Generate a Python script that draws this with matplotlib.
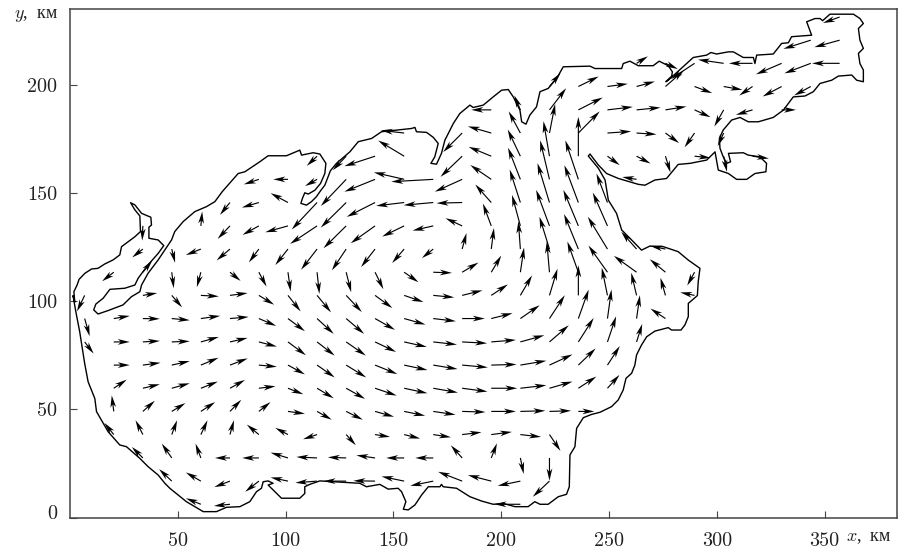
#! /usr/bin/python

# Depth-averaged current field over a basin outline

import matplotlib
matplotlib.use('Agg')
import matplotlib.pyplot as plt
from matplotlib.transforms import ScaledTranslation

# coastline, km
coast_x = [2.2, 1.8, 3.3, 4.2, 6.9, 10, 13, 16.1, 20, 23.1, 23.9, 27, 30.1, 32.7, 32.4, 30.1, 28.1, 30.1, 33.2, 37.5,
           37.8, 36.6, 36.6, 40.9, 43.5, 40.9, 36.2, 31.6, 30.1, 25.4, 18.5, 15.4, 12, 11, 13, 17.7, 24.6, 28.5, 32.4,
           33.2, 36.2, 40.9, 44, 47.1, 48.6, 52.5, 57.9, 63.3, 67.2, 70.6, 78, 81.1, 88, 91.9, 100.4, 106.6,
           107.4, 112.8, 115.9, 118.7, 118.2, 116.2, 113.6, 110.5, 108.9, 107.8, 107.1, 109.7, 112, 114.3, 116.2, 118.2,
           119.7, 120.8, 123.6, 129.8, 133.7, 139.9, 144.5, 158.4, 160, 160.7, 165.4, 168.5, 170.8, 169.2, 167.4, 170,
           172.3, 173.1, 173.9, 177.8, 180.8, 185.5, 187, 191.7, 196.3, 200.2, 203.3, 205.6, 208.7, 209.5, 211.5, 213.3,
           216.4, 218, 221.8, 225.7, 228.8, 241.2, 243.5, 245.8, 255.9, 256.6, 259.7, 263.6, 270.5, 273.3, 277.5,
           279.4, 279.1, 276.4, 277.5, 289.1, 295.3, 297.3, 299.9, 305.4, 307.7, 312.3, 317, 317.7, 318.5, 326.2, 330.1,
           333.2, 334.7, 344, 341.7, 345.6, 347.9, 349.1, 352.5, 363.4, 366.4, 368, 365.7, 366.4, 368, 365.7, 366.4, 368,
           368, 364.9, 362.6, 356.4, 353.3, 347.9, 344.8, 340.9, 335.5, 330.9, 326.2, 319.3, 314.6, 310.8, 306.9, 303,
           301.2, 301.5, 303, 304.6, 306.4, 305.4, 312.3, 314.6, 320, 323.1, 322.8, 317.7, 313.9, 309.2, 305.4, 300.7,
           299.6, 299.2, 295.3, 287.6, 282.1, 276.7, 271.3, 266.7, 263.6, 254.4, 248.9, 245.1, 241.2, 240.4, 245.1,
           248.2, 249.7, 253.5, 255.9, 261.3, 265.1, 269, 275.2, 282.1, 286.8, 292.2, 291.4, 291, 286.8, 286.8, 285.2,
           283.4, 279, 277.5, 271.3, 267.5, 265.1, 262.8, 262, 260.5, 257.9, 256.6, 254.3, 251.2, 245.8, 241.9, 238.1,
           235, 234.2, 231.9, 231.6, 230.3, 226.5, 221.8, 218, 215.6, 212.5, 206.4, 200.9, 196.3, 190.9, 185.5, 179.3,
           173.1, 172.3, 171.6, 166.2, 163.1, 160, 156.9, 154.6, 155.8, 153.8, 152.2, 147.6, 143.7, 137.5, 134.4, 115.9,
           111.2, 108.9, 108.9, 106.6, 98.1, 94.2, 91.9, 94.2, 91.9, 89.6, 88.8, 86.5, 83.4, 78.8, 72.6, 67.9, 61.8, 54,
           46.3, 44, 40.9, 36.2, 32.4, 26.2, 23.1, 17.7, 12.3, 11.5, 8.4, 6.8, 4.5, 2.7, 1.4, 2.2]
coast_y = [99.8, 104.4, 107.5, 110.1, 112.9, 114.9, 115.2, 117.2, 119.1, 121.4, 125.2, 127.5, 129.8, 132.2, 139.4, 142.2,
           145.5, 144.5, 140.6, 138.8, 135.2, 134.2, 129.1, 128.3, 125.7, 122.1, 116.8, 110.6, 107.5, 106, 105.5, 101.4,
           98.7, 96, 94.1, 95.7, 98.3, 102.1, 104.4, 107.5, 112.9, 119.1, 123.7, 128.3, 132.2, 136.8, 141.4, 143.7, 146,
           150.6, 159, 159.8, 164.4, 167.2, 167.2, 169.8, 167.5, 168.6, 168, 163.7, 159, 154.4, 151.3, 149.5, 150.1,
           147.5, 145.2, 144.4, 146, 148.3, 151, 153.6, 157.5, 160.3, 163.7, 169, 173.7, 175.2, 178.3, 179.8, 180.3,
           178.3, 178, 175.7, 172.9, 166.7, 163.7, 163.3, 168.3, 171.4, 174.4, 182.1, 186.7, 190.6, 189.5, 190.6, 194.4,
           197.5, 197.8, 194.4, 188.3, 182.9, 181.8, 186, 189.8, 196.8, 198.3, 202.9, 208.3, 208.6, 207.5, 207.5, 207.5,
           209.8, 210.9, 208.8, 208.8, 210.9, 208.8, 206, 204, 201.4, 202.1, 212.6, 213.7, 214.9, 214.2, 215.2, 215.2,
           212.6, 212.6, 209.8, 213.7, 214.2, 219.1, 219.4, 222.2, 222.9, 229.1, 230.6, 230.6, 229.6, 232.6, 232.6, 230.6,
           228.3, 226, 220.6, 216.8, 214.5, 209.8, 206.8, 201.4, 202.1, 204.5, 204, 202.1, 200.6, 196.8, 194.8, 194.4,
           188.3, 184.9, 182.9, 182.9, 184.9, 183.7, 179.1, 175.2, 170.6, 166.7, 163.7, 164.4, 168.3, 168.6, 167.5, 166.7,
           163.7, 159.8, 159, 156.3, 156.3, 159, 160.6, 166.7, 169, 165.2, 163.7, 163.2, 156.7, 156, 153.6, 154, 156.7,
           159, 162.9, 168, 167.1, 161.4, 156, 146.7, 140.6, 132.9, 127.5, 123.6, 125.5, 125.2, 122.9, 119, 115.2, 109,
           102.6, 99, 92.9, 89, 86.7, 86.7, 87.8, 86.2, 83.6, 79.8, 75.2, 70.5, 66.7, 64.4, 59, 54.4, 51.3, 48.7, 47.7,
           46.2, 41.3, 32.8, 29, 14.3, 10.8, 9.7, 6.2, 6.2, 7.4, 5.1, 5.1, 6.6, 6.2, 7.7, 9.7, 13.6, 14.3, 15.4, 14.3,
           14.3, 10.5, 5.9, 3.6, 3.9, 7.4, 12, 13.6, 13.2, 15.4, 14.3, 15.9, 17, 15.4, 14.3, 11.2, 9, 9, 12.8, 15.1, 15.9,
           17, 16.6, 13.6, 12, 7.4, 5.1, 4.8, 2.8, 2.8, 7.4, 13.6, 15.9, 19.7, 23.6, 27.4, 32.8, 33.6, 39.7, 49, 55.1,
           62.8, 71.3, 85.9, 95.2, 102.6, 99.8]

# arrow tail grid, km
x_grid = [6.8, 20.3, 33.8, 47.2, 60.7, 74.2, 87.6, 101.1, 114.6, 128.1, 141.5, 155, 168.5, 181.9, 195.4, 208.9, 222.4,
          235.8, 249.3, 262.8, 276.2, 289.7, 303.2, 316.6, 330.1, 343.6, 357]
y_grid = [6.2, 16.9, 27.6, 38.4, 49.1, 59.8, 70.5, 81.2, 92, 102.7, 113.4, 124.1, 134.8, 145.6, 156.3, 167, 177.7, 188.4,
          199.2, 209.9, 220.6, 231.3]

# one line per grid row, from the bottom up; column -1 is the first x_grid entry
cols = [[3, 4, 14],
        list(range(2, 16)),
        list(range(1, 16)),
        list(range(0, 16)),
        list(range(0, 17)),
        list(range(0, 18)),
        list(range(0, 18)),
        list(range(-1, 19)),
        list(range(-1, 20)),
        [-1] + list(range(1, 21)),
        list(range(0, 21)),
        list(range(1, 20)),
        [1] + list(range(3, 18)),
        list(range(4, 18)),
        list(range(5, 19)),
        [7, 8, 9, 10] + list(range(12, 23)),
        [10] + list(range(12, 22)),
        list(range(13, 24)),
        list(range(15, 25)),
        list(range(18, 26)),
        [24, 25],
        [25]]
u_rows = [[-45, -48, -78],
          [-38, -45, -47, -41, -52, -65, -68, -65, -68, -69, -72, -70, -68, -50],
          [-33, -30, -16, -45, -50, -52, -62, -55, -56, -54, -54, -34, 17, 10, 0],
          [-28, -22, 16, 20, 12, -36, -38, -42, 29, 45, 48, 53, 58, 62, 62, 33],
          [-6, 36, 41, 43, 34, 35, 51, 44, 50, 57, 63, 67, 70, 74, 75, 65, 48],
          [39, 51, 54, 51, 45, 50, 46, 50, 57, 65, 70, 74, 76, 78, 78, 69, 54, 36],
          [48, 53, 54, 53, 53, 54, 51, 53, 60, 67, 70, 73, 77, 76, 78, 69, 52, 37],
          [27, 48, 51, 54, 54, 53, 54, 54, 53, 59, 63, 68, 71, 75, 74, 72, 58, 46, 26, 17],
          [15, 48, 51, 54, 58, 56, 52, 51, 50, 54, 60, 64, 68, 68, 64, 58, 46, 31, 12, 10, -45],
          [-23, 43, 31, 54, 53, 46, 38, 42, 47, 52, 58, 63, 61, 50, 35, 24, 0, -17, -16, -15, -43],
          [-35, 28, 6, -12, 32, 23, 8, 7, 15, 25, 43, 56, 49, 30, 11, -8, -33, -57, -68, -47, -22],
          [-32, 10, -45, -40, -30, -38, -48, -43, -42, -36, -34, 13, 8, -6, -30, -43, -59, -46, -45],
          [-2, 4, -37, -49, -68, -81, -68, -73, -66, -62, -50, -25, -25, -40, -45, -44],
          [-30, -51, -52, -76, -76, -85, -84, -89, -77, -48, -32, -36, -42, -33],
          [-45, -44, -36, -76, -92, -91, -126, -82, -63, -37, -28, -39, 0, -43],
          [-31, -40, -92, -78, -65, -68, -38, -18, 0, 37, 42, 15, 48, 10, 49],
          [-70, -57, -70, -35, 17, 64, 71, 60, 41, -30, -18],
          [-60, -18, 50, 73, 76, 72, 63, 48, -28, -50, 43],
          [33, 61, 61, 55, 55, 53, 56, -40, -57, -50],
          [34, 37, -71, -77, -71, -77, -79, -83],
          [-82, -76],
          [-50]]
v_rows = [[18, -5, 0],
          [36, 26, -18, -32, 11, -5, 0, 1, 14, -14, 28, 18, -14, -47],
          [33, 43, 43, 0, 0, 16, 3, 2, 8, 0, 0, 38, 44, -48, -68],
          [35, 43, 43, 43, 43, 30, 20, -14, -32, -7, -12, -8, 7, 8, -7, -49],
          [48, 32, 25, 28, 35, 28, -7, -25, -25, -16, -13, -10, -2, 0, 2, 2, 0],
          [26, 12, 15, 20, 25, 6, -18, -30, -32, -22, -15, -13, -10, 0, 9, 20, 35, 40],
          [0, 7, 12, 22, 20, -5, -28, -37, -37, -27, -15, -12, -7, 2, 13, 32, 50, 57],
          [-35, 0, 3, 2, 15, 12, -14, -40, -41, -41, -30, -15, -8, -4, 6, 20, 50, 72, 77, 54],
          [-53, 8, -1, -5, 8, 5, -22, -38, -46, -46, -34, -18, -8, 0, 16, 40, 70, 87, 87, 70, 30],
          [-48, 7, -36, -3, 7, -28, -48, -51, -50, -38, -20, -6, 15, 33, 60, 80, 90, 83, 68, 53, 9],
          [-27, 35, -48, -45, -26, -43, -58, -65, -60, -51, -30, -2, 29, 50, 74, 92, 92, 80, 49, 39, -40],
          [-25, -41, -18, -34, -40, -48, -62, -64, -54, -42, -27, 48, 63, 83, 97, 105, 97, 52, 9],
          [-44, 43, -39, -27, -19, -54, -67, -52, -32, -14, 23, 67, 93, 108, 108, 100],
          [-37, -15, 28, -81, -75, -43, -10, -8, -2, 54, 99, 118, 112, 87],
          [-15, 0, -20, -80, -37, 21, -7, -37, 43, 95, 117, 117, 0, 7],
          [-29, -42, -30, 47, -62, 28, 80, 105, 118, -27, -22, -49, -5, -47, -7],
          [8, -57, 20, 65, 87, 65, 5, -4, -30, -43, -39],
          [0, 43, 65, 37, 9, 7, 10, -22, -50, -15, 0],
          [40, 30, 8, 15, 48, -20, -10, -27, -30, -27],
          [21, -17, -47, 11, 0, -33, -30, 0],
          [-26, -21],
          [-18]]

x_ticks = [50, 100, 150, 200, 250, 300, 350]
y_ticks = [0, 50, 100, 150, 200]

x_tail = []
y_tail = []
u = []
v = []
for j in range(len(cols)):
  for k in range(len(cols[j])):
    # a zero pair is a grid node on land, no arrow there
    if u_rows[j][k] == 0 and v_rows[j][k] == 0:
      continue
    x_tail.append(x_grid[cols[j][k] + 1])
    y_tail.append(y_grid[j])
    u.append(u_rows[j][k])
    v.append(v_rows[j][k])

plt.rcParams['font.family'] = ['cmr10', 'DejaVu Serif']
plt.rcParams['mathtext.fontset'] = 'cm'
plt.rcParams['axes.unicode_minus'] = False

fig = plt.figure(figsize=(9.09, 5.5), dpi=100)
ax = fig.add_axes([70 / 909, 1 - 517.7 / 550, 827 / 909, 508.7 / 550])
ax.set_xlim(0, 383.6)
ax.set_ylim(0, 235)

ax.plot(coast_x, coast_y, color='black', lw=1.0)
ax.quiver(x_tail, y_tail, u, v, angles='uv', scale_units='dots', scale=3, units='dots', width=1.15,
          headwidth=5, headlength=10.5, headaxislength=8, minlength=0, color='black', pivot='tail')

ax.set_xticks(x_ticks)
ax.set_yticks(y_ticks)
ax.tick_params(direction='in', length=5, width=0.8, color='#444444', labelsize=14.5, labelcolor='#222222', pad=10)
ax.tick_params(axis='y', pad=9)
for s in ax.spines.values():
  s.set_color('#444444')
  s.set_linewidth(1.1)

# the zero label sits a little above its tick
zero_label = ax.get_yticklabels()[0]
zero_label.set_transform(zero_label.get_transform() + ScaledTranslation(0, 6 / 100, fig.dpi_scale_trans))

lab = {'family': ['Liberation Serif'], 'fontsize': 13, 'color': '#222222'}
fig.text(891 / 909, 1 - 538 / 550, '$x$,  км', ha='right', va='center', **lab)
fig.text(58 / 909, 1 - 15 / 550, '$y$,  км', ha='right', va='center', **lab)

fig.savefig('out.png', dpi=100)
